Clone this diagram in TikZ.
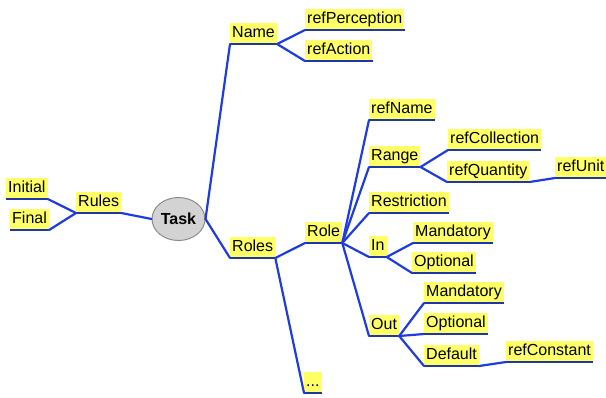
\documentclass[tikz,border=0pt]{standalone}
\usepackage{fontspec}
\setmainfont{Liberation Sans}
\usetikzlibrary{shapes.geometric}
\definecolor{mmyellow}{HTML}{FFFF66}
\definecolor{edgeblue}{HTML}{1E3CE0}
\definecolor{ulblue}{HTML}{1F35A8}
\definecolor{taskgray}{HTML}{D3D3D3}
\definecolor{taskborder}{HTML}{8C8C8C}
\newcommand\mmnode[4]{%
  \node[mm] (#1) at (#2,#3) {#4};
  \draw[uline] (#1.south west) -- (#1.south east);
}
\begin{document}
\begin{tikzpicture}[x=1pt,y=-1pt,
  mm/.style={fill=mmyellow, inner xsep=2pt, inner ysep=2pt, text height=12.5pt, text depth=4pt, anchor=south west, font=\fontsize{16}{18}\selectfont},
  edge/.style={draw=edgeblue, line width=2.2pt, line cap=round},
  uline/.style={draw=ulblue, line width=2.2pt},
  root/.style={ellipse, draw=taskborder, line width=1pt, fill=taskgray, minimum width=53pt, minimum height=43pt, inner sep=0pt, font=\fontsize{16}{18}\selectfont\bfseries}]
\fill[white] (0,0) rectangle (606,397);
\useasboundingbox (0,0) rectangle (606,397);

\node[root] (task) at (178.5,219) {Task};

\mmnode{initial}{6}{199}{Initial}
\mmnode{final}{10}{230}{Final}
\mmnode{rules}{76}{213}{Rules}
\mmnode{name}{230}{44}{Name}
\mmnode{refperception}{305}{30}{refPerception}
\mmnode{refaction}{305}{61}{refAction}
\mmnode{roles}{230}{258}{Roles}
\mmnode{role}{305}{243}{Role}
\mmnode{dots}{304}{393}{...}
\mmnode{refname}{369}{120}{refName}
\mmnode{range}{369}{167}{Range}
\mmnode{refcollection}{448}{150}{refCollection}
\mmnode{refquantity}{447}{182}{refQuantity}
\mmnode{refunit}{555}{178}{refUnit}
\mmnode{restriction}{369}{213}{Restriction}
\mmnode{in}{369}{257}{In}
\mmnode{mandin}{413}{243}{Mandatory}
\mmnode{optin}{412}{273}{Optional}
\mmnode{out}{369}{336}{Out}
\mmnode{mandout}{424}{303}{Mandatory}
\mmnode{optout}{424}{334}{Optional}
\mmnode{default}{424}{366}{Default}
\mmnode{refconstant}{506}{362}{refConstant}

\draw[edge] (initial.south east) -- (rules.south west);
\draw[edge] (final.south east) -- (rules.south west);
\draw[edge] (rules.south east) -- (task.west);
\draw[edge] (task.east) -- (name.south west);
\draw[edge] (task.east) -- (roles.south west);
\draw[edge] (name.south east) -- (refperception.south west);
\draw[edge] (name.south east) -- (refaction.south west);
\draw[edge] (roles.south east) -- (role.south west);
\draw[edge] (roles.south east) -- (dots.south west);
\draw[edge] (role.south east) -- (refname.south west);
\draw[edge] (role.south east) -- (range.south west);
\draw[edge] (role.south east) -- (restriction.south west);
\draw[edge] (role.south east) -- (in.south west);
\draw[edge] (role.south east) -- (out.south west);
\draw[edge] (range.south east) -- (refcollection.south west);
\draw[edge] (range.south east) -- (refquantity.south west);
\draw[edge] (refquantity.south east) -- (refunit.south west);
\draw[edge] (in.south east) -- (mandin.south west);
\draw[edge] (in.south east) -- (optin.south west);
\draw[edge] (out.south east) -- (mandout.south west);
\draw[edge] (out.south east) -- (optout.south west);
\draw[edge] (out.south east) -- (default.south west);
\draw[edge] (default.south east) -- (refconstant.south west);
\end{tikzpicture}
\end{document}
